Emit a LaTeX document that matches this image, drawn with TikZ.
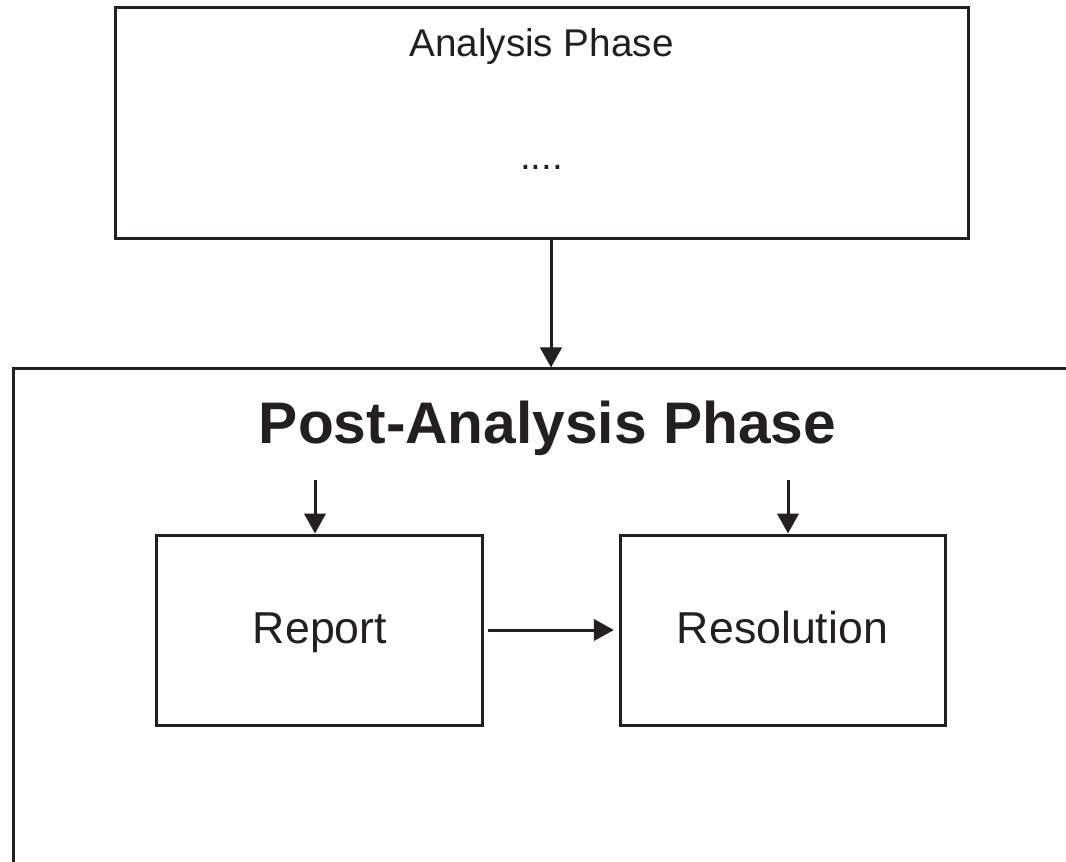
\documentclass[tikz,border=0pt]{standalone}
\usepackage{fontspec}
\setmainfont{Liberation Sans}
\usetikzlibrary{arrows.meta}
\definecolor{ink}{HTML}{231F20}
\begin{document}
\begin{tikzpicture}[x=0.75pt,y=-0.75pt, line width=2.25pt, draw=ink, text=ink,
  boxst/.style={draw=ink, rectangle, inner sep=0pt},
  arr/.style={draw=ink, -{Triangle[length=15pt,width=16pt]}},
  smallfont/.style={font=\fontsize{29}{35}\selectfont},
  midfont/.style={font=\fontsize{33.5}{40}\selectfont},
  bigfont/.style={font=\fontsize{44}{52}\selectfont\bfseries}]
\useasboundingbox (0,0) rectangle (1066,862);
\clip (0,0) rectangle (1066,862);
% Analysis box
\node[boxst, minimum width=639.75pt, minimum height=173.25pt] (ana) at (541.5,123.5) {};
\node[smallfont, anchor=base, inner sep=0pt] (anat) at (541.5,57) {Analysis Phase};
\node[smallfont, anchor=base, inner sep=0pt] (dots) at (541.5,170) {....};
% Post-analysis (cropped) box
\node[boxst, minimum width=900pt, minimum height=525pt] (post) at (613,719) {};
\node[bigfont, anchor=base, inner sep=0pt] (postt) at (547.5,443) {Post-Analysis Phase};
% Report / Resolution
\node[boxst, minimum width=244.5pt, minimum height=142.5pt] (rep) at (319,630) {};
\node[midfont, anchor=base, inner sep=0pt] (rept) at (320,643) {Report};
\node[boxst, minimum width=243.75pt, minimum height=142.5pt] (res) at (782.5,630) {};
\node[midfont, anchor=base, inner sep=0pt] (rest) at (782.5,643) {Resolution};
% connectors
\coordinate (a1) at (551,239);
\draw[arr] (a1) -- (a1 |- post.north);
\coordinate (s1) at (315,480);
\coordinate (s2) at (788,480);
\draw[arr] (s1) -- (s1 |- rep.north);
\draw[arr] (s2) -- (s2 |- res.north);
\draw[arr, shorten <=3pt, shorten >=3.5pt] (rep.east) -- (res.west);
\end{tikzpicture}
\end{document}
